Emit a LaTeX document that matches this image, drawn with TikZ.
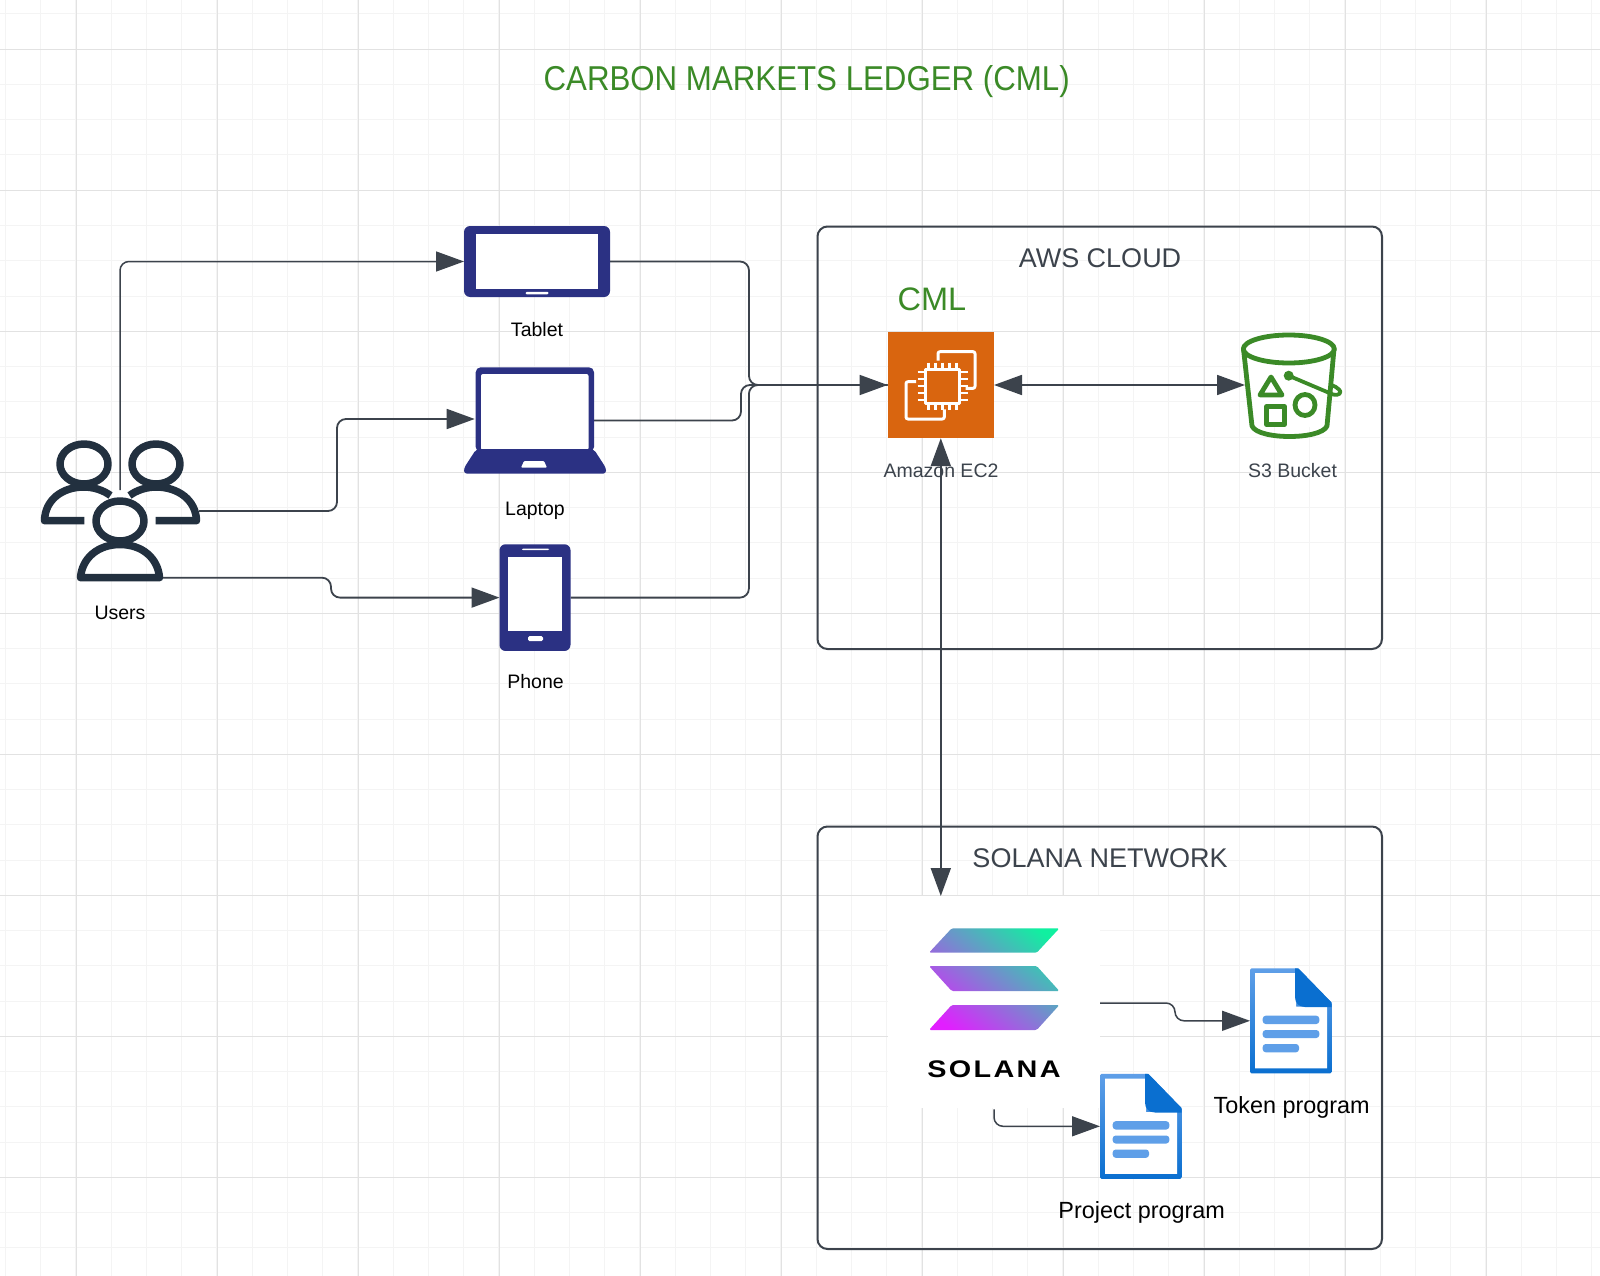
\documentclass[tikz,border=0pt]{standalone}
\usepackage{fontspec}
\setmainfont{Liberation Sans}
\newfontfamily\solfont[LetterSpace=8]{Liberation Sans}
\usetikzlibrary{arrows.meta}
\definecolor{gridminor}{HTML}{F4F4F4}
\definecolor{gridmajor}{HTML}{E2E2E2}
\definecolor{slate}{HTML}{3C434C}
\definecolor{leaf}{HTML}{3B8A27}
\definecolor{navy}{HTML}{2B3183}
\definecolor{userink}{HTML}{22303F}
\definecolor{ec2}{HTML}{D9650F}
\definecolor{docdark}{HTML}{0A6FD0}
\definecolor{doclight}{HTML}{5F9FE8}
\definecolor{solA}{HTML}{E21EFF}
\definecolor{solB}{HTML}{5F96C4}
\definecolor{solC}{HTML}{10F0A0}
\tikzset{
  conn/.style={draw=slate,line width=1.8pt,rounded corners=9pt},
  tipped/.style={conn,-{Triangle[length=28pt,width=20pt]}},
  bothtip/.style={conn,{Triangle[length=28pt,width=20pt]}-{Triangle[length=28pt,width=20pt]}},
  frame/.style={draw=slate,line width=2pt,rounded corners=10pt,inner sep=0pt},
  iconbox/.style={inner sep=0pt,outer sep=0pt},
  lab/.style={inner sep=0pt,text=black,font=\fontsize{19.5}{22}\selectfont},
  awslab/.style={inner sep=0pt,text=slate,font=\fontsize{19.5}{22}\selectfont},
  boxtitle/.style={inner sep=0pt,text=slate,font=\fontsize{27}{30}\selectfont},
  proglab/.style={inner sep=0pt,text=black,font=\fontsize{23.4}{26}\selectfont},
  greenlab/.style={inner sep=0pt,text=leaf,font=\fontsize{32.5}{36}\selectfont},
  titlelab/.style={inner sep=0pt,text=leaf,font=\fontsize{34.5}{38}\selectfont},
  person/.style={draw=userink,line width=7.5pt,line join=round},
  bucket/.style={draw=leaf,line width=4.8pt,line join=round,line cap=round},
  chip/.style={draw=white,line width=3pt,line join=round},
}
\newcommand{\docicon}[2]{%
  \begin{scope}[shift={(#1,#2)}]
    \shade[top color=doclight,bottom color=docdark,rounded corners=1.5pt]
      (1250,968.3) -- (1298.3,968.3) -- (1331.7,1002.7) -- (1331.7,1073.3) -- (1250,1073.3) -- cycle;
    \fill[white] (1255,973) -- (1296,973) -- (1296,1006.7) -- (1327,1006.7) -- (1327,1068.3) -- (1255,1068.3) -- cycle;
    \fill[docdark] (1295,968.3) -- (1298.3,968.3) -- (1331.7,1002.7) -- (1331.7,1007) -- (1305,1007) .. controls (1299,1007) and (1295,1003) .. (1295,997) -- cycle;
    \fill[doclight,rounded corners=3pt] (1262.7,1015.7) rectangle (1319.3,1024);
    \fill[doclight,rounded corners=3pt] (1262.7,1030) rectangle (1319.3,1038);
    \fill[doclight,rounded corners=3pt] (1262.7,1044) rectangle (1299,1052.3);
  \end{scope}}
\begin{document}
\begin{tikzpicture}[x=1pt,y=-1pt]
\useasboundingbox (0,0) rectangle (1600,1276);
\fill[white] (0,0) rectangle (1600,1276);
% grid
\foreach \i in {0,...,45} {
  \pgfmathsetmacro{\gx}{5.25+35.25*\i}
  \draw[gridminor,line width=1pt] (\gx,0) -- (\gx,1276);
}
\foreach \i in {0,...,36} {
  \pgfmathsetmacro{\gy}{14+35.25*\i}
  \draw[gridminor,line width=1pt] (0,\gy) -- (1600,\gy);
}
\foreach \i in {0,...,11} {
  \pgfmathsetmacro{\gx}{76.3+141*\i}
  \draw[gridmajor,line width=1pt] (\gx,0) -- (\gx,1276);
}
\foreach \i in {0,...,8} {
  \pgfmathsetmacro{\gy}{49.3+141*\i}
  \draw[gridmajor,line width=1pt] (0,\gy) -- (1600,\gy);
}

% title
\node[titlelab] (title) at (806.7,81.5) {\scalebox{0.906}[1]{CARBON MARKETS LEDGER (CML)}};

% containers
\node[frame,minimum width=564.5pt,minimum height=422.5pt] (aws) at (1099.75,437.75) {};
\node[frame,minimum width=564.5pt,minimum height=422.5pt] (sol) at (1099.75,1037.75) {};
\node[boxtitle] (awstitle) at (1100,258.5) {AWS CLOUD};
\node[boxtitle] (soltitle) at (1100,858.5) {SOLANA NETWORK};
\node[greenlab] (cml) at (932,299.5) {CML};

% anchors for icons
\node[iconbox,minimum width=146pt,minimum height=71pt] (tablet) at (537,261.5) {};
\node[iconbox,minimum width=142pt,minimum height=106.4pt] (laptop) at (535,420.5) {};
\node[iconbox,minimum width=71pt,minimum height=106.7pt] (phone) at (535,597.6) {};
\node[iconbox,minimum width=106.4pt,minimum height=106.4pt] (ec) at (940.8,385) {};
\node[iconbox,minimum width=88pt,minimum height=105pt] (s3) at (1289,385) {};
\node[iconbox,minimum width=212pt,minimum height=212pt] (solana) at (994,1002) {};
\node[iconbox,minimum width=81.7pt,minimum height=105pt] (token) at (1290.85,1020.8) {};
\node[iconbox,minimum width=81.7pt,minimum height=105pt] (project) at (1140.85,1126.3) {};
\coordinate (usrTop) at (120,490);
\coordinate (usrMid) at (199,511);
\coordinate (usrLow) at (163,577.7);
\coordinate (lapIn) at (474.7,419);
\coordinate (lapOut) at (594,420.5);
\coordinate (solTop) at (940.8,896);
\coordinate (solRight) at (1100,1003);
\coordinate (solLow) at (994,1109.3);

% solana white patch
\fill[white] (888,896) rectangle (1100,1108);

% connectors
\draw[conn] (tablet.east) -- ++(139,0) |- (ec.west);
\draw[conn] (lapOut) -- (741,420.5) |- (ec.west);
\draw[tipped] (phone.east) -- ++(178.4,0) |- (ec.west);
\draw[tipped,line width=1.5pt] (usrTop) |- (tablet.west);
\draw[tipped] (usrMid) -- (337,511) |- (lapIn);
\draw[tipped] (usrLow) -- (331,577.7) |- (phone.west);
\draw[bothtip] (ec.east) -- (s3.west);
\draw[bothtip,rounded corners=0pt] (ec.south) -- (solTop);
\draw[tipped,line width=1.5pt] (solRight) -- (1175,1003) |- (token.west);
\draw[tipped,line width=1.5pt] (solLow) |- (project.west);

% tablet
\fill[navy,rounded corners=6pt] (tablet.north west) rectangle (tablet.south east);
\fill[white] (476,234) rectangle (598,288.5);
\fill[white,rounded corners=1.2pt] (525.5,291.8) rectangle (548.5,294.4);

% laptop
\fill[navy,rounded corners=5pt] (475.7,367.3) rectangle (594,452);
\fill[navy,rounded corners=3pt] (476,449.5) -- (594,449.5) -- (606,468) -- (606,473.7) -- (464,473.7) -- (464,468) -- cycle;
\fill[white,rounded corners=2pt] (481,374) rectangle (588.5,450);
\fill[navy] (481,448.5) rectangle (588.5,451);
\fill[white,rounded corners=1pt] (524,461) -- (544,461) -- (547,467.7) -- (521,467.7) -- cycle;

% phone
\fill[navy,rounded corners=6pt] (phone.north west) rectangle (phone.south east);
\fill[white] (507.8,556.5) rectangle (562.4,631.2);
\fill[white,rounded corners=1pt] (522,548.5) rectangle (549,550.2);
\fill[white,rounded corners=1.5pt] (528,636.2) rectangle (543,641.2);

% users
\node[iconbox,minimum width=154pt,minimum height=141pt] (users) at (118,511) {};
\draw[person] (84,464) circle [x radius=24,y radius=20];
\draw[person] (156,464) circle [x radius=24,y radius=20];
\draw[person] (120,521) circle [x radius=24,y radius=20];
\draw[person] (84.3,520.7) -- (44.5,520.7) .. controls (45,500) and (62,487) .. (84,487) .. controls (93,487) and (103,490) .. (110.5,495.5);
\draw[person] (155.7,520.7) -- (196.5,520.7) .. controls (196,500) and (178,487) .. (156,487) .. controls (147,487) and (137,490) .. (129.5,495.5);
\draw[person] (80.5,577.7) .. controls (82,558) and (98,544.5) .. (120,544.5) .. controls (142,544.5) and (158,558) .. (159.5,577.7) -- cycle;

% EC2
\fill[ec2] (ec.north west) rectangle (ec.south east);
\draw[chip,rounded corners=2pt] (938,360.7) -- (938,351.7) -- (975,351.7) -- (975,388.3) -- (965.7,388.3);
\draw[chip,rounded corners=2pt] (916,381.7) -- (906,381.7) -- (906,419) -- (944.3,419) -- (944.3,409.3);
\draw[chip] (925.2,369) rectangle (959.8,403);
\foreach \p in {0,1,2,3,4} {
  \pgfmathsetmacro{\px}{928.5+7*\p}
  \pgfmathsetmacro{\py}{372+7*\p}
  \draw[white,line width=2.6pt] (\px,362.5) -- (\px,369);
  \draw[white,line width=2.6pt] (\px,403) -- (\px,409.5);
  \draw[white,line width=2.6pt] (917.5,\py) -- (925.2,\py);
  \draw[white,line width=2.6pt] (959.8,\py) -- (967.5,\py);
}

% S3 bucket
\fill[white] (1243.5,349) -- (1334,349) -- (1327,427) -- (1252,427) -- cycle;
\draw[bucket] (1243.5,349) -- (1252,426) .. controls (1258,440) and (1321,440) .. (1327,426) -- (1334,349);
\draw[bucket,fill=white] (1288.8,349) circle [x radius=45.5,y radius=14];
\draw[bucket] (1271,377) -- (1282,395) -- (1260,395) -- cycle;
\draw[bucket] (1266.5,406.5) rectangle (1284.5,424.5);
\draw[bucket] (1305,405) circle [x radius=10,y radius=10.5];
\fill[leaf] (1288.7,375.7) circle (5);
\draw[bucket,line width=3.8pt] (1288.7,375.7) -- (1333,394.5) .. controls (1340,396) and (1342,392) .. (1339,389.5) .. controls (1337,387) and (1334,386) .. (1331,385);

% Solana logo
\begin{scope}
  \clip[rounded corners=1.5pt] (929,952.7) -- (951.7,928.3) -- (1059.3,928.3) -- (1036.7,952.7) -- cycle
    (929,966) -- (1036.7,966) -- (1059.3,991) -- (951.7,991) -- cycle
    (929,1030) -- (951.7,1005) -- (1059.3,1005) -- (1036.7,1030) -- cycle;
  \shade[left color=solC,middle color=solB,right color=solA,shading angle=-38] (920,918) rectangle (1068,1040);
\end{scope}
\node[iconbox,text=black,font=\solfont\bfseries\fontsize{24}{26}\selectfont] (solword) at (994,1069.5) {\scalebox{1.2}[1]{SOLANA}};

% documents
\docicon{0}{0}
\docicon{-150}{105.5}

% labels
\node[lab] (tabletlab) at (537,329.5) {Tablet};
\node[lab] (laptoplab) at (535,511) {Laptop};
\node[lab] (phonelab) at (535.5,681.7) {Phone};
\node[lab] (userslab) at (120,612.7) {Users};
\node[awslab] (eclab) at (941,470.5) {Amazon EC2};
\node[awslab] (s3lab) at (1292.5,470.5) {S3 Bucket};
\node[proglab] (tokenlab) at (1291.7,1107.5) {Token program};
\node[proglab] (projlab) at (1141.7,1212.5) {Project program};
\end{tikzpicture}
\end{document}
